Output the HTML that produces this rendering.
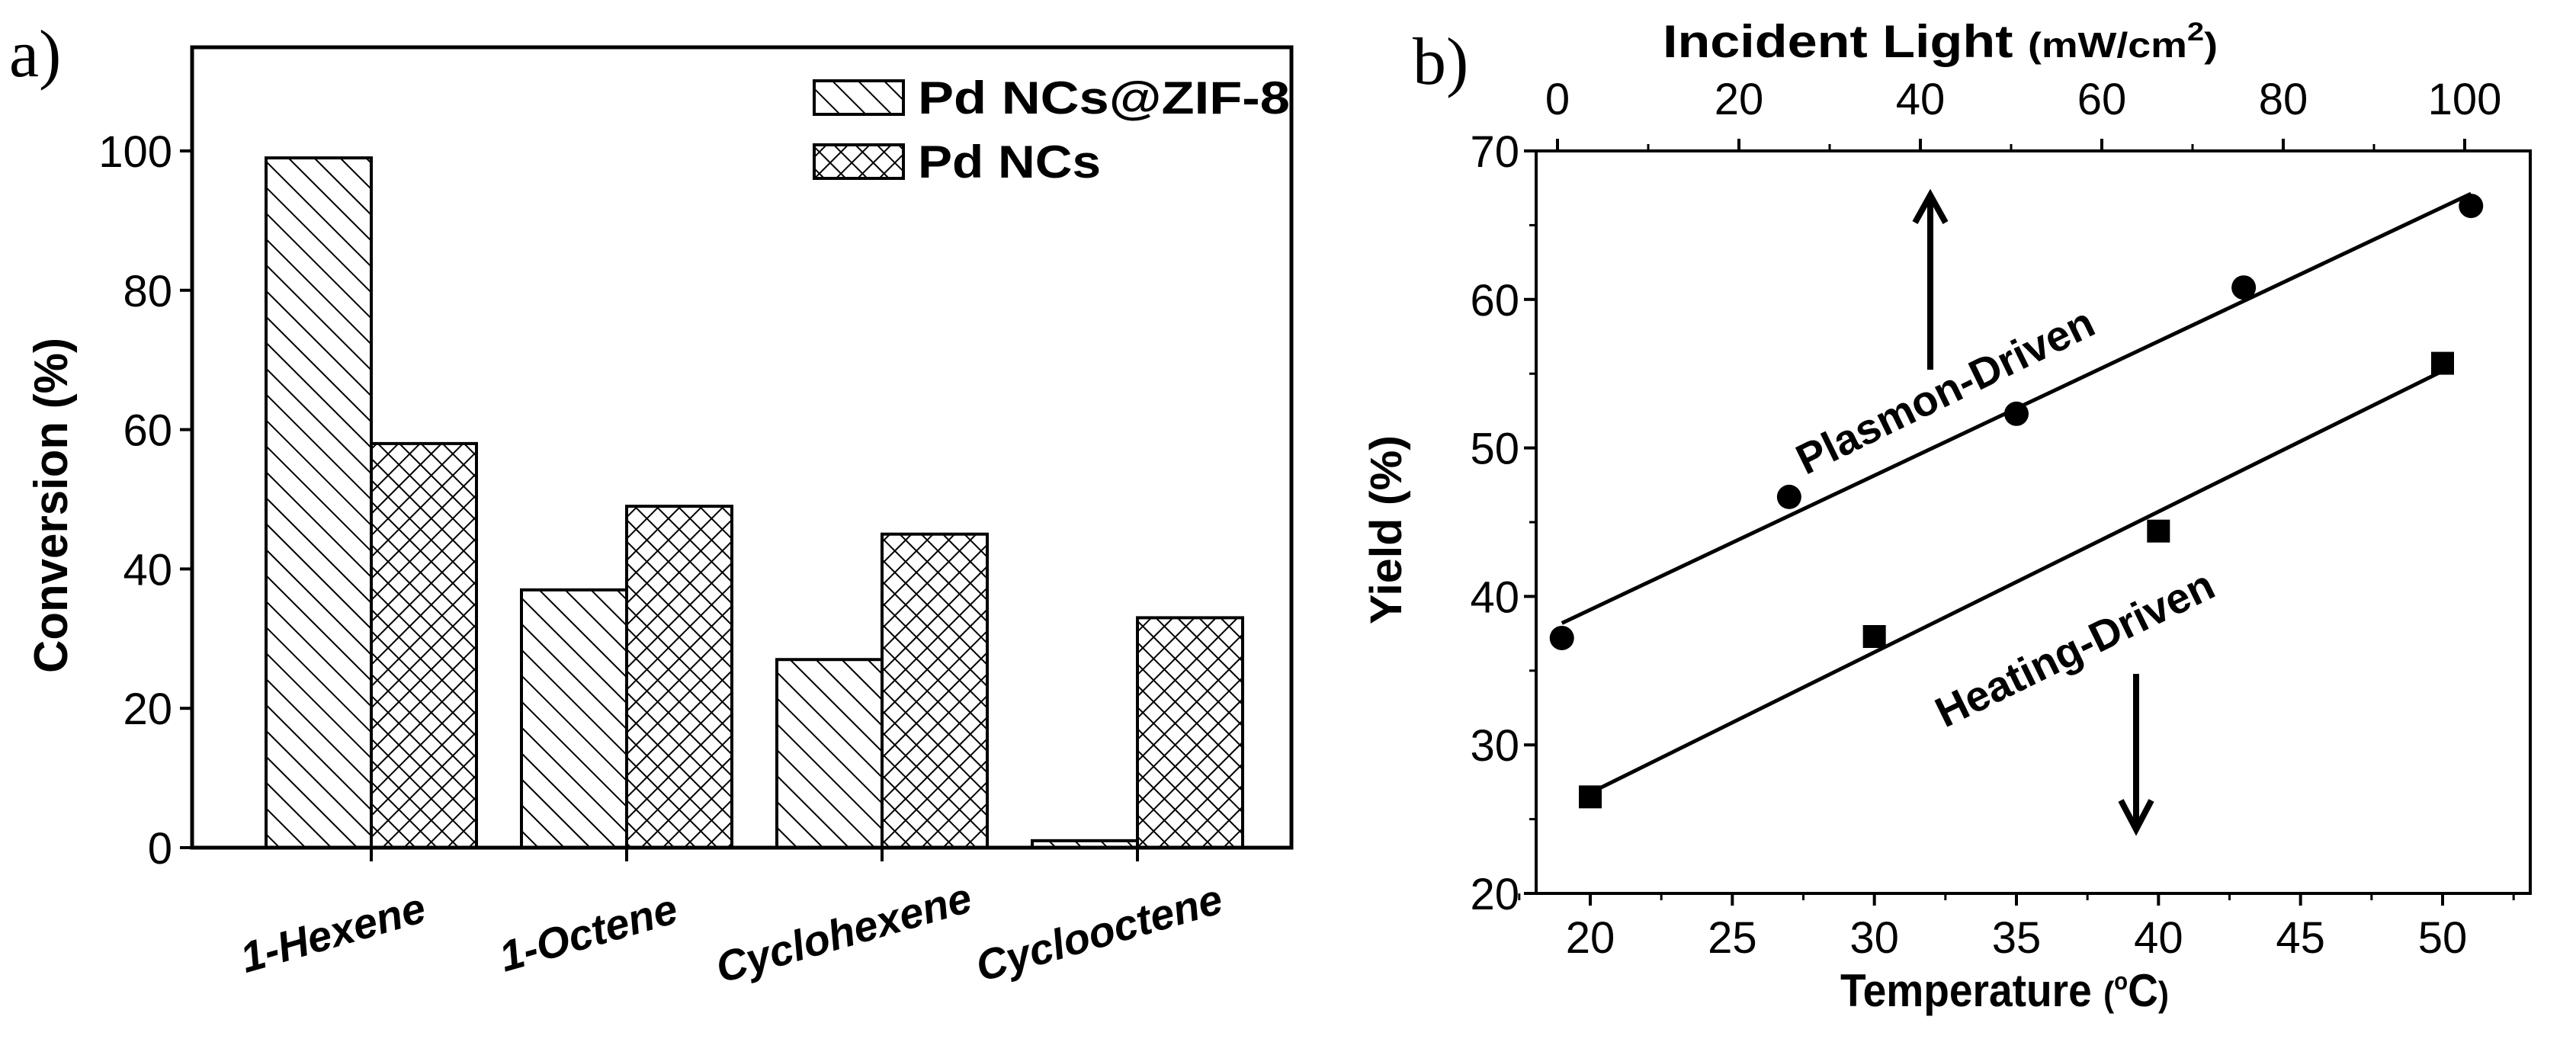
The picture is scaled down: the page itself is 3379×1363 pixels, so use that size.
<!DOCTYPE html>
<html><head><meta charset="utf-8"><style>
html,body{margin:0;padding:0;background:#fff;}
svg{display:block;font-family:"Liberation Sans",Arial,sans-serif;}
</style></head><body>
<svg id="fig" width="3379" height="1363" viewBox="0 0 3379 1363" xmlns="http://www.w3.org/2000/svg">
<defs>
<pattern id="diag" patternUnits="userSpaceOnUse" width="24" height="24" patternTransform="rotate(-45)">
<rect width="24" height="24" fill="#fff"/><line x1="0" y1="0" x2="0" y2="24" stroke="#000" stroke-width="4"/></pattern>
<pattern id="cross" patternUnits="userSpaceOnUse" width="20" height="20" patternTransform="rotate(45)">
<rect width="20" height="20" fill="#fff"/><line x1="0" y1="0" x2="0" y2="20" stroke="#000" stroke-width="4"/><line x1="0" y1="0" x2="20" y2="0" stroke="#000" stroke-width="4"/></pattern>
</defs>
<g id="pa"></g>
<g id="pb"></g>
</svg>
<script>
const categories = ["1-Hexene","1-Octene","Cyclohexene","Cyclooctene"];
const zifValues = [99,37,27,1];
const pdValues = [58,49,45,33];
const aTicks = [0,20,40,60,80,100];

const tempCircle = [19,27,35,43,51];
const yieldCircle = [37.2,46.7,52.3,60.8,66.3];
const tempSquare = [20,30,40,50];
const yieldSquare = [26.5,37.3,44.4,55.7];
const bYTicks = [20,30,40,50,60,70];
const bXTicks = [20,25,30,35,40,45,50];
const bTopTicks = [0,20,40,60,80,100];

const NS="http://www.w3.org/2000/svg";
function mk(parent,tag,attrs,text){const e=document.createElementNS(NS,tag);for(const k in attrs)e.setAttribute(k,attrs[k]);if(text!==undefined)e.textContent=text;parent.appendChild(e);return e;}

// ---------- Panel A ----------
const pa=document.getElementById('pa');
const aL=252,aR=1694,aT=62,aB=1112;
const ay=v=>aB-(v/100)*(1112-198);
const groupX=i=>487+i*335;
const bw=138;
let t;
t=mk(pa,'text',{x:12,y:100,'font-family':'Liberation Serif,serif','font-size':88});t.textContent='a)';


categories.forEach((c,i)=>{
  const cx=groupX(i);
  let r=mk(pa,'rect',{x:cx-bw,y:ay(zifValues[i]),width:bw,height:aB-ay(zifValues[i]),fill:'url(#diag)',stroke:'#000','stroke-width':4});
  
  
  r=mk(pa,'rect',{x:cx,y:ay(pdValues[i]),width:bw,height:aB-ay(pdValues[i]),fill:'url(#cross)',stroke:'#000','stroke-width':4});
  
  
  mk(pa,'line',{x1:cx,y1:aB,x2:cx,y2:aB+18,stroke:'#000','stroke-width':4});
  const lx=cx-45, ly=aB+130;
  t=mk(pa,'text',{x:lx,y:ly,'text-anchor':'middle','font-size':56,'font-weight':'bold','font-style':'italic',transform:`rotate(-16 ${lx} ${ly})`},c);
  
  
});
let bx=mk(pa,'path',{d:`M${aL},${aB} L${aL},${aT} L${aR},${aT} L${aR},${aB} Z`,fill:'none',stroke:'#000','stroke-width':5});


aTicks.forEach(v=>{
  mk(pa,'line',{x1:aL-16,y1:ay(v),x2:aL,y2:ay(v),stroke:'#000','stroke-width':4});
  t=mk(pa,'text',{x:aL-26,y:ay(v)+21,'text-anchor':'end','font-size':58},v);
  
  
});
t=mk(pa,'text',{x:0,y:0,'text-anchor':'middle','font-size':62,'font-weight':'bold',textLength:440,lengthAdjust:'spacingAndGlyphs',transform:'translate(88,663) rotate(-90)'},'Conversion (%)');


let lg=mk(pa,'rect',{x:1068,y:106,width:117,height:44,fill:'url(#diag)',stroke:'#000','stroke-width':4});


lg=mk(pa,'rect',{x:1068,y:190,width:117,height:44,fill:'url(#cross)',stroke:'#000','stroke-width':4});


t=mk(pa,'text',{x:1204,y:149,'font-size':60,'font-weight':'bold',textLength:488,lengthAdjust:'spacingAndGlyphs'},'Pd NCs@ZIF-8');


t=mk(pa,'text',{x:1204,y:233,'font-size':60,'font-weight':'bold',textLength:240,lengthAdjust:'spacingAndGlyphs'},'Pd NCs');



// ---------- Panel B ----------
const pb=document.getElementById('pb');
const bL=2015,bR=3319,bT=198,bB=1172;
const by=v=>bB-(v-20)/50*(bB-bT);
const bx_=v=>2086+(v-20)/30*(3204-2086);
const btx=v=>2043+v/100*(3233-2043);
t=mk(pb,'text',{x:1853,y:110,'font-family':'Liberation Serif,serif','font-size':88},'b)');


bx=mk(pb,'rect',{x:bL,y:bT,width:bR-bL,height:bB-bT,fill:'none',stroke:'#000','stroke-width':4});


bYTicks.forEach(v=>{
  mk(pb,'line',{x1:bL-16,y1:by(v),x2:bL,y2:by(v),stroke:'#000','stroke-width':4});
  if(v<70) mk(pb,'line',{x1:bL-9,y1:by(v+5),x2:bL,y2:by(v+5),stroke:'#000','stroke-width':3});
  t=mk(pb,'text',{x:bL-22,y:by(v)+21,'text-anchor':'end','font-size':58},v);
  
  
});
bXTicks.forEach(v=>{
  mk(pb,'line',{x1:bx_(v),y1:bB,x2:bx_(v),y2:bB+16,stroke:'#000','stroke-width':4});
  mk(pb,'line',{x1:bx_(v+2.5),y1:bB,x2:bx_(v+2.5),y2:bB+9,stroke:'#000','stroke-width':3});
  if(v===20) mk(pb,'line',{x1:bx_(17.5),y1:bB,x2:bx_(17.5),y2:bB+9,stroke:'#000','stroke-width':3});
  t=mk(pb,'text',{x:bx_(v),y:1250,'text-anchor':'middle','font-size':58},v);
  
  
});
bTopTicks.forEach(v=>{
  mk(pb,'line',{x1:btx(v),y1:bT,x2:btx(v),y2:bT-16,stroke:'#000','stroke-width':4});
  if(v<100) mk(pb,'line',{x1:btx(v+10),y1:bT,x2:btx(v+10),y2:bT-9,stroke:'#000','stroke-width':3});
  t=mk(pb,'text',{x:btx(v),y:150,'text-anchor':'middle','font-size':58},v);
  
  
});
t=mk(pb,'text',{x:2181,y:75,'font-size':60,'font-weight':'bold',textLength:728,lengthAdjust:'spacingAndGlyphs'});
t.innerHTML='Incident Light <tspan font-size="46">(mW/cm</tspan><tspan font-size="34" dy="-22">2</tspan><tspan font-size="46" dy="22">)</tspan>';


t=mk(pb,'text',{x:2414,y:1320,'font-size':60,'font-weight':'bold',textLength:431,lengthAdjust:'spacingAndGlyphs'});
t.innerHTML='Temperature <tspan font-size="46">(</tspan><tspan font-size="32" dy="-22">o</tspan><tspan font-size="60" dy="22">C</tspan><tspan font-size="46">)</tspan>';


t=mk(pb,'text',{x:0,y:0,'text-anchor':'middle','font-size':58,'font-weight':'bold',textLength:248,lengthAdjust:'spacingAndGlyphs',transform:'translate(1838,695) rotate(-90)'},'Yield (%)');


function fit(xs,ys){const n=xs.length,mx=xs.reduce((a,b)=>a+b)/n,my=ys.reduce((a,b)=>a+b)/n;let sxy=0,sxx=0;xs.forEach((x,i)=>{sxy+=(x-mx)*(ys[i]-my);sxx+=(x-mx)**2;});const m=sxy/sxx;return [m,my-m*mx];}
let [m1,c1]=fit(tempCircle,yieldCircle);
let ln=mk(pb,'line',{x1:bx_(tempCircle[0]),y1:by(m1*tempCircle[0]+c1),x2:bx_(tempCircle[tempCircle.length-1]),y2:by(m1*tempCircle[tempCircle.length-1]+c1),stroke:'#000','stroke-width':5});


let [m2,c2]=fit(tempSquare,yieldSquare);
ln=mk(pb,'line',{x1:bx_(tempSquare[0]),y1:by(m2*tempSquare[0]+c2),x2:bx_(tempSquare[tempSquare.length-1]),y2:by(m2*tempSquare[tempSquare.length-1]+c2),stroke:'#000','stroke-width':5});


tempCircle.forEach((x,i)=>{
  const c=mk(pb,'circle',{cx:bx_(x),cy:by(yieldCircle[i]),r:16,fill:'#000'});
  
  
});
tempSquare.forEach((x,i)=>{
  const s=mk(pb,'rect',{x:bx_(x)-15,y:by(yieldSquare[i])-15,width:30,height:30,fill:'#000'});
  
  
});
let ar=mk(pb,'path',{d:'M2532,485 L2532,258 M2512,292 L2532,256 L2552,292',fill:'none',stroke:'#000','stroke-width':8});


ar=mk(pb,'path',{d:'M2802,884 L2802,1086 M2782,1050 L2802,1088 L2822,1050',fill:'none',stroke:'#000','stroke-width':8});


t=mk(pb,'text',{x:2560,y:530,'text-anchor':'middle','font-size':56,'font-weight':'bold',transform:'rotate(-26 2560 530)'},'Plasmon-Driven');


t=mk(pb,'text',{x:2730,y:868,'text-anchor':'middle','font-size':56,'font-weight':'bold',transform:'rotate(-26 2730 868)'},'Heating-Driven');


</script>
</body></html>
